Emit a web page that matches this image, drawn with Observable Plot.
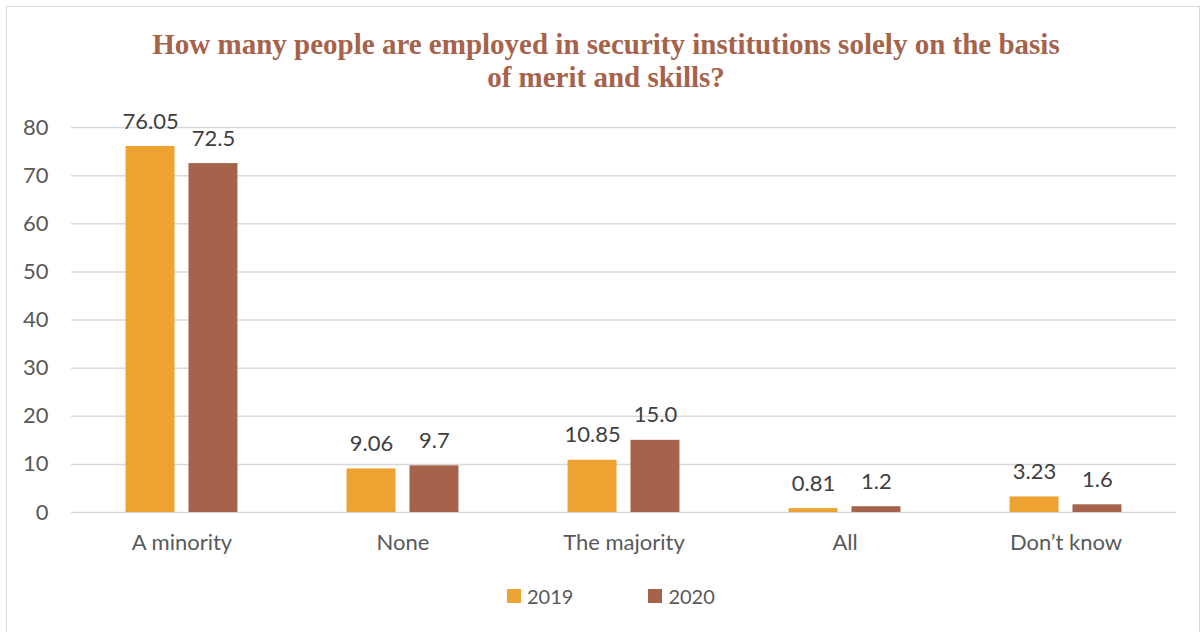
<!DOCTYPE html>
<html>
<head>
<meta charset="utf-8">
<script src="https://cdn.jsdelivr.net/npm/d3@7"></script>
<script src="https://cdn.jsdelivr.net/npm/@observablehq/plot@0.6"></script>
<style>
  html, body { margin: 0; padding: 0; background: #fff; }
  body { width: 1203px; height: 632px; position: relative; overflow: hidden; font-family: Lato, "Noto Sans", sans-serif; }
  #frame { position: absolute; left: 6px; top: 6px; width: 1194px; height: 640px; border: 1.5px solid #d9d9d9; box-sizing: border-box; }
  #title { position: absolute; left: 9px; width: 1194px; top: 28px; text-align: center; font-family: "Liberation Serif", "Times New Roman", serif; font-weight: bold; font-size: 29px; line-height: 33px; color: #a5634b; }
  #chart { position: absolute; left: 0; top: 100px; }
  #legend { position: absolute; top: 583px; left: 507px; display: flex; align-items: center; font-size: 20px; color: #595959; height: 26px; }
  .sw { width: 14px; height: 14px; display: inline-block; margin-right: 6px; }
  .item { display: flex; align-items: center; }
</style>
</head>
<body>
<div id="frame"></div>
<div id="title">How many people are employed in security institutions solely on the basis<br>of merit and skills?</div>
<div id="chart"></div>
<div id="legend"></div>
<script>
const categories = ["A minority", "None", "The majority", "All", "Don’t know"];
const years = ["2019", "2020"];
const values2019 = [76.05, 9.06, 10.85, 0.81, 3.23];
const values2020 = [72.5, 9.7, 15.0, 1.2, 1.6];
const labels2019 = ["76.05", "9.06", "10.85", "0.81", "3.23"];
const labels2020 = ["72.5", "9.7", "15.0", "1.2", "1.6"];
const yTicks = [0, 10, 20, 30, 40, 50, 60, 70, 80];
const colors = ["#eea231", "#a5634b"];

const data = [];
categories.forEach((c, i) => {
  data.push({category: c, year: years[0], value: values2019[i], label: labels2019[i]});
  data.push({category: c, year: years[1], value: values2020[i], label: labels2020[i]});
});

const plot = Plot.plot({
  width: 1203,
  height: 480,
  marginLeft: 70,
  marginRight: 27,
  marginTop: 27,
  marginBottom: 68,
  style: {fontSize: "22px", fontFamily: "Lato, 'Noto Sans', sans-serif", color: "#595959", background: "transparent"},
  fx: {domain: categories, padding: 0, label: null, axis: "bottom", tickSize: 0, tickPadding: 22},
  x: {domain: years, paddingInner: 0.222, paddingOuter: 0.867, axis: null, round: false},
  y: {domain: [0, 80], ticks: yTicks, tickSize: 0, tickPadding: 23, label: null, tickFormat: d => String(d)},
  color: {domain: years, range: colors},
  marks: [
    Plot.ruleY(yTicks, {stroke: "#d9d9d9", strokeWidth: 1.5}),
    Plot.barY(data, {fx: "category", x: "year", y: "value", fill: "year"}),
    Plot.text(data, {fx: "category", x: "year", y: "value", text: "label", dy: -25, fill: "#404040", fontSize: 22})
  ]
});
document.getElementById("chart").appendChild(plot);

const legend = document.getElementById("legend");
years.forEach((yr, i) => {
  const item = document.createElement("div");
  item.className = "item";
  if (i > 0) item.style.marginLeft = "75px";
  const sw = document.createElement("span");
  sw.className = "sw";
  sw.style.background = colors[i];
  const t = document.createElement("span");
  t.textContent = yr;
  item.appendChild(sw);
  item.appendChild(t);
  legend.appendChild(item);
});
</script>
</body>
</html>
